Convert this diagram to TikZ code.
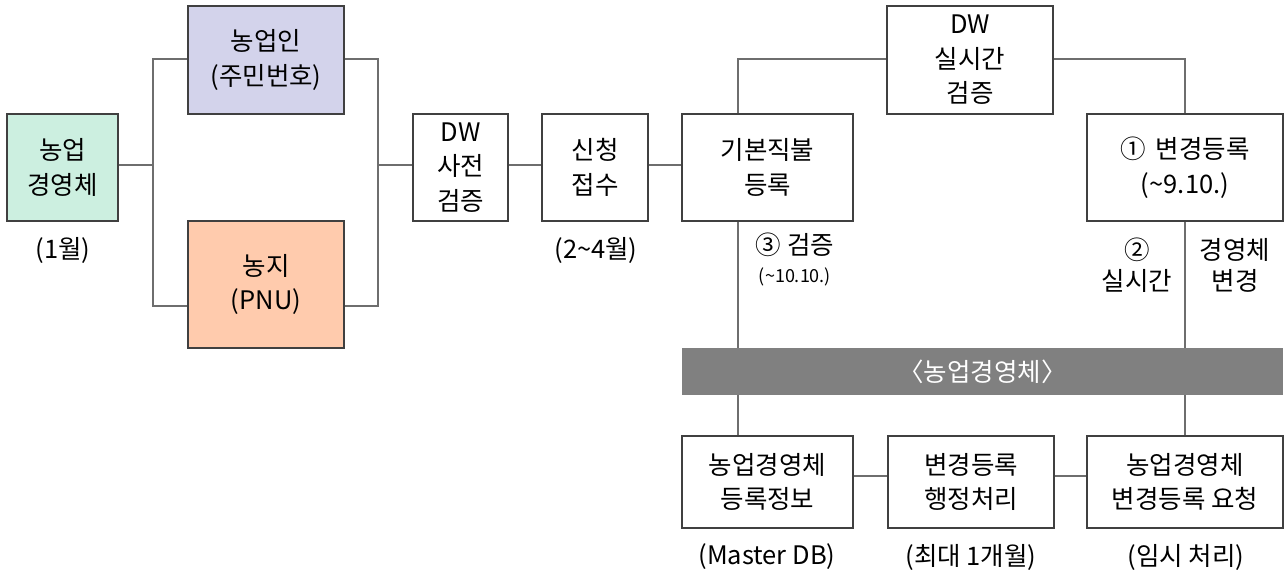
\documentclass[tikz,border=0pt]{standalone}
\usepackage{fontspec}
\setmainfont{Noto Sans CJK KR}
\usetikzlibrary{calc}
\newcommand{\tld}{\char"7E\relax}
\definecolor{boxline}{HTML}{404040}
\definecolor{conn}{HTML}{6E6E6E}
\definecolor{entfill}{HTML}{CCEFE0}
\definecolor{farmerfill}{HTML}{D3D3EB}
\definecolor{landfill}{HTML}{FFCBAD}
\definecolor{bandfill}{HTML}{808080}
\begin{document}
\begin{tikzpicture}[x=1pt,y=-1pt,
  txt/.style={font=\fontsize{25.5}{34.5}\selectfont, align=center, inner sep=0pt},
  smalltxt/.style={font=\fontsize{18}{22}\selectfont, align=center, inner sep=0pt},
  bx/.style={txt, draw=boxline, line width=1.4pt, rectangle},
  conline/.style={draw=conn, line width=1.4pt}
]
\useasboundingbox (0,0) rectangle (1286,573);
% boxes
\node[bx, fill=entfill, minimum width=111pt, minimum height=107pt] (ent) at (62.5,167.5) {농업\\경영체};
\node[bx, fill=farmerfill, minimum width=156pt, minimum height=108pt] (farmer) at (266,60) {농업인\\(주민번호)};
\node[bx, fill=landfill, minimum width=156pt, minimum height=127pt] (land) at (266,284.5) {농지\\(PNU)};
\node[bx, minimum width=95pt, minimum height=107pt] (dwpre) at (460.5,167.5) {DW\\사전\\검증};
\node[bx, minimum width=106pt, minimum height=107pt] (apply) at (595,167.5) {신청\\접수};
\node[bx, minimum width=171pt, minimum height=107pt] (basic) at (767.5,167.5) {기본직불\\등록};
\node[bx, minimum width=166pt, minimum height=108pt] (dwrt) at (970,60) {DW\\실시간\\검증};
\node[bx, minimum width=196pt, minimum height=107pt] (change) at (1185,167.5) {①\, 변경등록\\(\tld 9.10.)};
\node[txt, fill=bandfill, text=white, minimum width=601pt, minimum height=47pt] (band) at (982.5,371.5) {〈농업경영체〉};
\node[bx, minimum width=171pt, minimum height=92pt] (info) at (767.5,482) {농업경영체\\등록정보};
\node[bx, minimum width=166pt, minimum height=92pt] (admin) at (971,482) {변경등록\\행정처리};
\node[bx, minimum width=196pt, minimum height=92pt] (req) at (1185,482) {농업경영체\\변경등록 요청};
% labels
\node[txt] (l1) at (63,250) {(1월)};
\node[txt] (l2) at (596,250) {(2\tld 4월)};
\node[txt] (l3a) at (795,245) {③ 검증};
\node[smalltxt] (l3b) at (795,277) {(\tld 10.10.)};
\node[txt] (l4a) at (1137,250) {②};
\node[txt] (l4b) at (1137,281) {실시간};
\node[txt] (l5a) at (1235,250) {경영체};
\node[txt] (l5b) at (1235,281) {변경};
\node[txt] (l6) at (767,557) {(Master DB)};
\node[txt] (l7) at (971,557) {(최대 1개월)};
\node[txt] (l8) at (1186,557) {(임시 처리)};
% junctions
\coordinate (jl) at (153,165);
\coordinate (jr) at (378,165);
% connectors
\draw[conline] (ent.east |- jl) -- (jl);
\draw[conline] (farmer.west |- 0,59) -| (jl) |- ([yshift=-21.5pt]land.west);
\draw[conline] (farmer.east |- 0,59) -| (jr) |- ([yshift=-21.5pt]land.east);
\draw[conline] (jr) -- (dwpre.west |- jr);
\draw[conline] (dwpre.east |- jr) -- (apply.west |- jr);
\draw[conline] (apply.east |- jr) -- (basic.west |- jr);
\draw[conline] ([xshift=-29.5pt]basic.north) |- (dwrt.west |- 0,59);
\draw[conline] (dwrt.east |- 0,59) -| (change.north);
\draw[conline] ([xshift=-29.5pt]basic.south) -- ([xshift=-29.5pt]basic.south |- band.north);
\draw[conline] (change.south) -- (change.south |- band.north);
\draw[conline] ([xshift=-29.5pt]info.north |- band.south) -- ([xshift=-29.5pt]info.north);
\draw[conline] (req.north |- band.south) -- (req.north);
\draw[conline] ([yshift=6pt]info.east) -- ([yshift=6pt]admin.west);
\draw[conline] ([yshift=6pt]admin.east) -- ([yshift=6pt]req.west);
\end{tikzpicture}
\end{document}
